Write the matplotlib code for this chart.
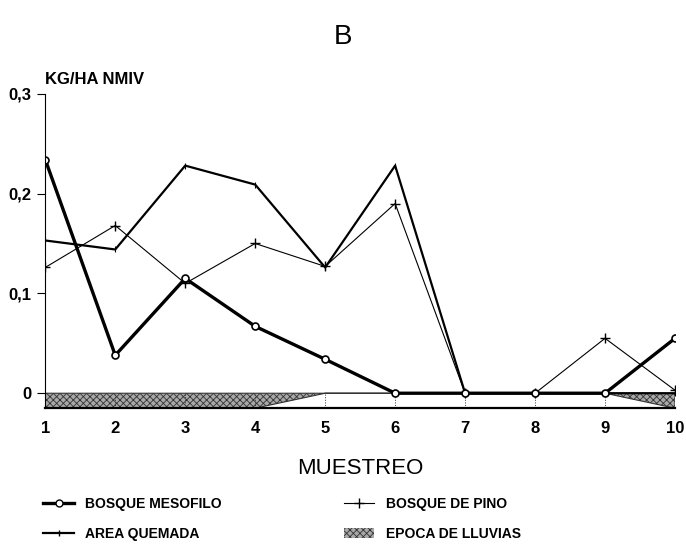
import numpy as np
import matplotlib
matplotlib.use("Agg")
import matplotlib.pyplot as plt
from matplotlib.patches import Patch
from matplotlib.lines import Line2D

plt.rcParams['font.family'] = ['Liberation Sans', 'DejaVu Sans']
plt.rcParams['hatch.linewidth'] = 0.6

# Data
muestreo = [1, 2, 3, 4, 5, 6, 7, 8, 9, 10]
bosque_mesofilo = [0.234, 0.038, 0.115, 0.067, 0.034, 0.0, 0.0, 0.0, 0.0, 0.055]
area_quemada = [0.153, 0.144, 0.228, 0.209, 0.126, 0.228, 0.0, 0.0, 0.0, 0.0]
bosque_pino = [0.126, 0.168, 0.110, 0.150, 0.127, 0.190, 0.0, 0.0, 0.055, 0.003]
epoca_lluvias = [-0.015, -0.015, -0.015, -0.015, 0.0, 0.0, 0.0, 0.0, 0.0, -0.015]
yticks = [0, 0.1, 0.2, 0.3]
ytick_labels = ["0", "0,1", "0,2", "0,3"]
band_bottom = -0.015

fig = plt.figure(figsize=(6.86, 5.45), dpi=100)
ax = fig.add_axes([0.066, 0.251, 0.918, 0.577])

# rainy season band under the zero line
ax.fill_between(muestreo, epoca_lluvias, 0, facecolor='#a8a8a8', edgecolor='#333333',
                hatch='xxxxx', linewidth=0.8)
ax.vlines(muestreo, band_bottom, 0, colors='#333333', linestyles=':', linewidth=0.7)

ax.plot(muestreo, bosque_pino, color='black', lw=0.8, marker='+', ms=7, mew=1.0)
ax.plot(muestreo, area_quemada, color='black', lw=1.6, marker='|', ms=4, mew=0.8)
ax.plot(muestreo, bosque_mesofilo, color='black', lw=2.4, marker='o', ms=5,
        mfc='white', mec='black', mew=1.2)

ax.set_xlim(1, 10)
ax.set_ylim(band_bottom, 0.3)
ax.spines['top'].set_visible(False)
ax.spines['right'].set_visible(False)
ax.spines['left'].set_linewidth(0.8)
ax.spines['bottom'].set_linewidth(1.6)
ax.spines['left'].set_bounds(band_bottom, 0.3)

ax.set_xticks(muestreo)
ax.set_xticklabels([str(m) for m in muestreo], fontsize=12, fontweight='bold')
ax.tick_params(axis='x', length=0, pad=9)
ax.set_yticks(yticks)
ax.set_yticklabels(ytick_labels, fontsize=12, fontweight='bold')
ax.tick_params(axis='y', length=6, width=0.8, direction='out', pad=4)

ax.set_xlabel("MUESTREO", fontsize=16, labelpad=16)
fig.text(0.5, 0.932, "B", fontsize=20, ha='center', va='center')
fig.text(0.066, 0.855, "KG/HA NMIV", fontsize=12, fontweight='bold', ha='left', va='center')

handles = [
    Line2D([], [], color='black', lw=2.4, marker='o', ms=5, mfc='white', mec='black'),
    Line2D([], [], color='black', lw=1.6, marker='|', ms=4),
    Line2D([], [], color='black', lw=0.8, marker='+', ms=7),
    Patch(facecolor='#a8a8a8', edgecolor='#333333', hatch='xxxxx', linewidth=0),
]
labels = ["BOSQUE MESOFILO", "AREA QUEMADA", "BOSQUE DE PINO", "EPOCA DE LLUVIAS"]
fig.legend(handles, labels, ncol=2, loc='lower left', bbox_to_anchor=(0.045, -0.016),
           frameon=False, prop={'size': 10, 'weight': 'bold'}, handlelength=2.2,
           columnspacing=8.8, labelspacing=1.15)

fig.savefig("out.png", dpi=100)
